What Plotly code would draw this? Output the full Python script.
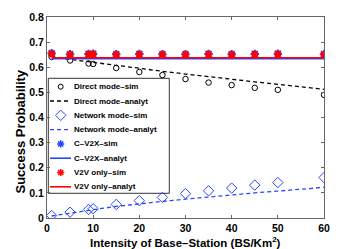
import plotly.graph_objects as go

# ---------------- data ----------------
x_sim = [1, 5, 9, 10, 15, 20, 25, 30, 35, 40, 45, 50, 60]
direct_sim = [0.641, 0.627, 0.615, 0.613, 0.597, 0.581, 0.569, 0.553, 0.539, 0.529, 0.518, 0.510, 0.490]
network_sim = [0.010, 0.023, 0.034, 0.037, 0.054, 0.069, 0.082, 0.097, 0.108, 0.119, 0.131, 0.141, 0.161]
cv2x_sim = [0.656, 0.652, 0.653, 0.654, 0.652, 0.653, 0.652, 0.652, 0.653, 0.652, 0.653, 0.654, 0.652]
v2v_sim = [0.654, 0.651, 0.652, 0.653, 0.651, 0.652, 0.651, 0.651, 0.652, 0.651, 0.652, 0.653, 0.651]

x_an = [1, 5, 10, 15, 20, 25, 30, 35, 40, 45, 50, 55, 60]
direct_an = [0.641, 0.631, 0.619, 0.607, 0.595, 0.584, 0.573, 0.562, 0.552, 0.542, 0.532, 0.522, 0.512]
network_an = [0.008, 0.020, 0.033, 0.046, 0.057, 0.066, 0.075, 0.084, 0.092, 0.100, 0.107, 0.115, 0.122]
cv2x_an = [0.634] * 13
v2v_an = [0.638] * 13

legend_labels = ["Direct mode–sim", "Direct mode–analyt", "Network mode–sim", "Network mode–analyt",
                 "C–V2X–sim", "C–V2X–analyt", "V2V only–sim", "V2V only–analyt"]

x_ticks = [0, 10, 20, 30, 40, 50, 60]
y_ticks = [0, 0.1, 0.2, 0.3, 0.4, 0.5, 0.6, 0.7, 0.8]

BLUE = "rgb(40,70,255)"
RED = "rgb(255,0,0)"
BLACK = "black"
FONT = "Liberation Sans, Arial, sans-serif"

fig = go.Figure()

fig.add_trace(go.Scatter(x=x_sim, y=direct_sim, mode="markers",
                         marker=dict(symbol="circle-open", size=5.5, color=BLACK, line=dict(width=1))))
fig.add_trace(go.Scatter(x=x_an, y=direct_an, mode="lines",
                         line=dict(color=BLACK, width=1.3, dash="4px,3px")))
fig.add_trace(go.Scatter(x=x_sim, y=network_sim, mode="markers",
                         marker=dict(symbol="diamond-open", size=8, color=BLUE, line=dict(width=1))))
fig.add_trace(go.Scatter(x=x_an, y=network_an, mode="lines",
                         line=dict(color=BLUE, width=1.3, dash="4px,3px")))
fig.add_trace(go.Scatter(x=x_sim, y=cv2x_sim, mode="markers",
                         marker=dict(symbol="asterisk-open", size=7, color=BLUE, line=dict(width=2, color=BLUE))))
fig.add_trace(go.Scatter(x=x_an, y=cv2x_an, mode="lines", line=dict(color=BLUE, width=1.6)))
fig.add_trace(go.Scatter(x=x_sim, y=v2v_sim, mode="markers",
                         marker=dict(symbol="asterisk-open", size=6, color=RED, line=dict(width=2, color=RED))))
fig.add_trace(go.Scatter(x=x_an, y=v2v_an, mode="lines", line=dict(color=RED, width=1.6)))

# ---------------- custom legend ----------------
W, H = 358, 249
L, R, T, B = 47, 34, 17, 31
pw, ph = W - L - R, H - T - B


def px2x(px):
    return (px - L) / pw


def py2y(py):
    return (H - B - py) / ph


row_y = [py2y(86.7 + 14.3 * i) for i in range(8)]
mx = px2x(60.7)
lx0, lx1 = px2x(50), px2x(71)
tx = px2x(72)

shapes = [dict(type="rect", xref="paper", yref="paper", x0=px2x(48.3), x1=px2x(169.3),
               y0=py2y(193.3), y1=py2y(78.3), line=dict(color="#333", width=1),
               fillcolor="white", layer="below")]
line_styles = {1: (BLACK, "4px,3px", 1.3), 3: (BLUE, "4px,3px", 1.3), 5: (BLUE, "solid", 1.6), 7: (RED, "solid", 1.6)}
for i, (c, d, w) in line_styles.items():
    shapes.append(dict(type="line", xref="paper", yref="paper", x0=lx0, x1=lx1, y0=row_y[i], y1=row_y[i],
                       line=dict(color=c, dash=d, width=w), layer="above"))

marker_styles = {0: dict(symbol="circle-open", size=5, color=BLACK, line=dict(width=1)),
                 2: dict(symbol="diamond-open", size=8, color=BLUE, line=dict(width=1)),
                 4: dict(symbol="asterisk-open", size=6, color=BLUE, line=dict(width=1.5, color=BLUE)),
                 6: dict(symbol="asterisk-open", size=6, color=RED, line=dict(width=1.5, color=RED))}
for i, m in marker_styles.items():
    fig.add_trace(go.Scatter(x=[mx], y=[row_y[i]], mode="markers", marker=m,
                             xaxis="x2", yaxis="y2", cliponaxis=False))

annotations = []
for i, lab in enumerate(legend_labels):
    annotations.append(dict(text=lab, xref="paper", yref="paper", x=tx, y=row_y[i], xanchor="left",
                            yanchor="middle", showarrow=False,
                            font=dict(family=FONT, size=8, color="black", weight="bold")))

annotations.append(dict(text="Intensity of Base–Station (BS/Km<sup>2</sup>)", xref="paper", yref="paper",
                        x=px2x(185), y=py2y(241.5), xanchor="center", yanchor="middle", showarrow=False,
                        font=dict(family=FONT, size=11.5, color="black", weight="bold")))
annotations.append(dict(text="Success Probability", xref="paper", yref="paper",
                        x=px2x(20), y=py2y(131.5), xanchor="center", yanchor="middle", showarrow=False,
                        textangle=-90, font=dict(family=FONT, size=13, color="black", weight="bold")))

axis_common = dict(showgrid=False, zeroline=False, showline=True, linecolor="#666", linewidth=1,
                   mirror="ticks", ticks="inside", ticklen=3, tickcolor="#666",
                   tickfont=dict(family=FONT, size=10.5, color="black", weight="bold"))

fig.update_layout(
    width=W, height=H,
    margin=dict(l=L, r=R, t=T, b=B, pad=0),
    paper_bgcolor="white", plot_bgcolor="white",
    showlegend=False,
    xaxis=dict(range=[0, 60], tickvals=x_ticks, **axis_common),
    yaxis=dict(range=[0, 0.8], tickvals=y_ticks, ticktext=[f"{v:g}" for v in y_ticks], **axis_common),
    xaxis2=dict(overlaying="x", range=[0, 1], visible=False),
    yaxis2=dict(overlaying="y", range=[0, 1], visible=False),
    shapes=shapes,
    annotations=annotations,
)

fig.write_html("out.html", config={"displayModeBar": False},
               post_script="document.body.style.margin='0px';")
